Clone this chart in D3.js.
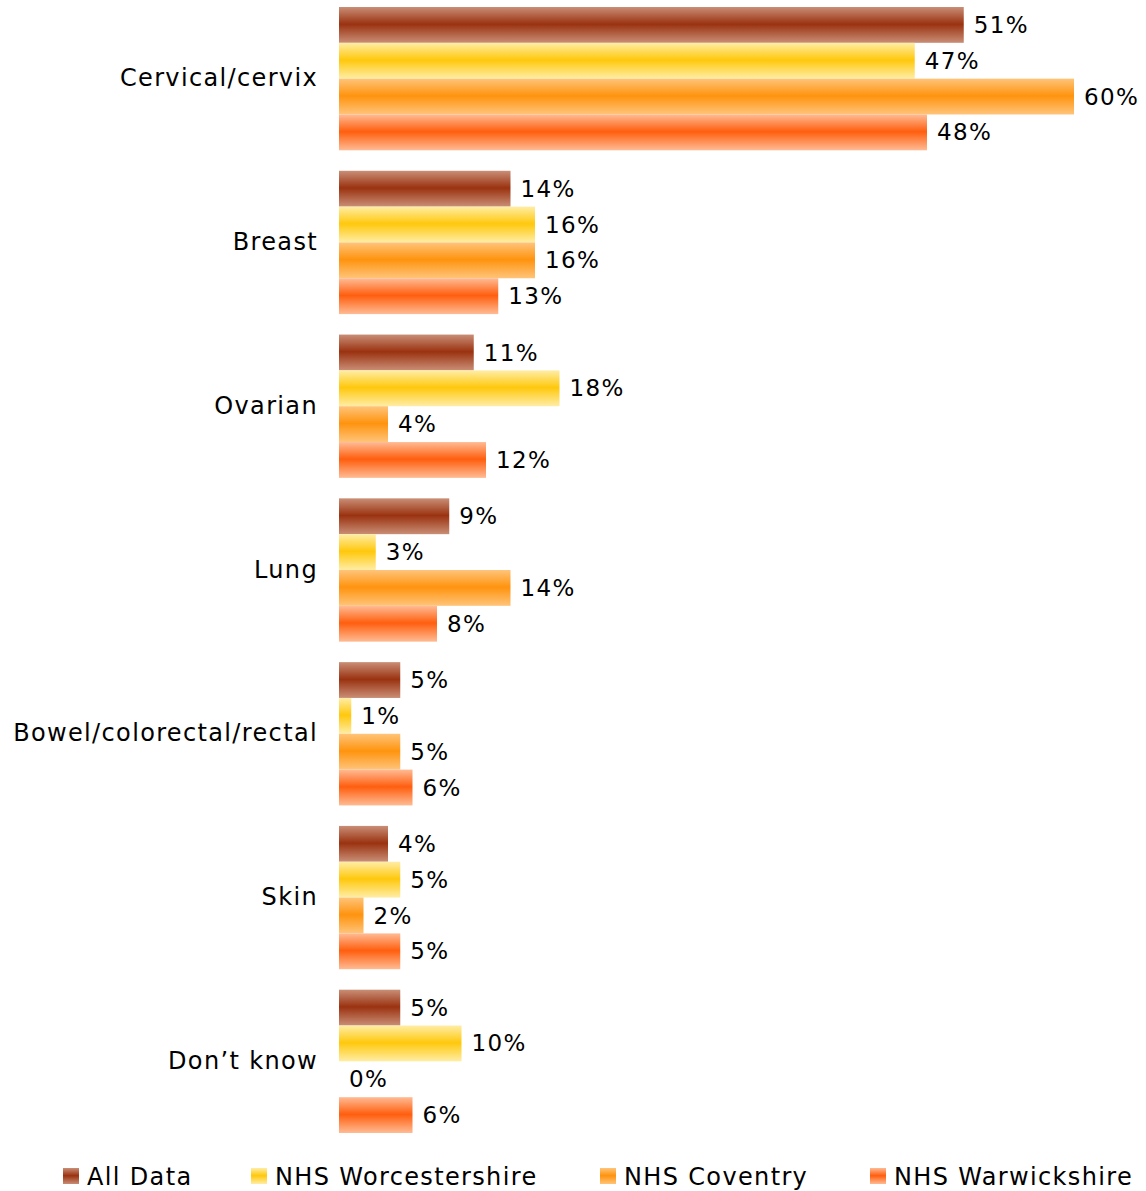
<!DOCTYPE html>
<html>
<head>
<meta charset="utf-8">
<script src="https://cdn.jsdelivr.net/npm/d3@7"></script>
<style>
  html, body { margin: 0; padding: 0; background: #fff; }
  svg { display: block; }
</style>
</head>
<body>
<div id="chart"></div>
<script>
// Cancer types named by respondents (percent of responses)
const categories = ["Cervical/cervix", "Breast", "Ovarian", "Lung", "Bowel/colorectal/rectal", "Skin", "Don\u2019t know"];
const seriesNames = ["All Data", "NHS Worcestershire", "NHS Coventry", "NHS Warwickshire"];
const allData        = [51, 14, 11, 9, 5, 4, 5];
const worcestershire = [47, 16, 18, 3, 1, 5, 10];
const coventry       = [60, 16, 4, 14, 5, 2, 0];
const warwickshire   = [48, 13, 12, 8, 6, 5, 6];
const seriesValues = [allData, worcestershire, coventry, warwickshire];

// edge / centre colours of each series' banded fill
const seriesColors = [
  { edge: "#c98e76", mid: "#9a3210" },
  { edge: "#ffeda6", mid: "#ffc80c" },
  { edge: "#ffc47a", mid: "#ff930e" },
  { edge: "#ffbb94", mid: "#ff5e0e" }
];

const width = 1146, height = 1191;
const font = "'DejaVu Sans', Verdana, sans-serif";
const spacing = "1.35px";

const svg = d3.select("#chart").append("svg")
  .attr("width", width).attr("height", height);

const defs = svg.append("defs");
seriesColors.forEach((c, i) => {
  const g = defs.append("linearGradient")
    .attr("id", "grad" + i)
    .attr("x1", 0).attr("y1", 0).attr("x2", 0).attr("y2", 1);
  g.append("stop").attr("offset", "0%").attr("stop-color", c.edge);
  g.append("stop").attr("offset", "48%").attr("stop-color", c.mid);
  g.append("stop").attr("offset", "100%").attr("stop-color", c.edge);
});

const x0 = 339;
const x = d3.scaleLinear().domain([0, 60]).range([x0, x0 + 60 * 12.25]);

const y = d3.scaleBand().domain(categories).range([7, 1133])
  .paddingInner(0.125).paddingOuter(0);

const ySub = d3.scaleBand().domain(d3.range(seriesNames.length))
  .range([0, y.bandwidth()]).padding(0);

// category axis (labels only, no line or ticks)
const axis = svg.append("g")
  .attr("transform", `translate(${x0 - 4},0)`)
  .call(d3.axisLeft(y).tickSize(0).tickPadding(17));
axis.select(".domain").remove();
axis.selectAll("text")
  .attr("font-family", font)
  .attr("font-size", 24)
  .attr("letter-spacing", spacing)
  .attr("fill", "#000");

const groups = svg.append("g").selectAll("g")
  .data(categories)
  .join("g")
  .attr("transform", d => `translate(0,${y(d)})`);

seriesNames.forEach((name, si) => {
  const vals = seriesValues[si];
  groups.append("rect")
    .attr("x", x(0))
    .attr("y", ySub(si))
    .attr("width", (d, ci) => x(vals[ci]) - x(0))
    .attr("height", ySub.bandwidth())
    .attr("fill", `url(#grad${si})`);

  groups.append("text")
    .attr("x", (d, ci) => x(vals[ci]) + 10)
    .attr("y", ySub(si) + ySub.bandwidth() / 2)
    .attr("dy", "0.35em")
    .attr("font-family", font)
    .attr("font-size", 23)
    .attr("letter-spacing", spacing)
    .attr("fill", "#000")
    .text((d, ci) => vals[ci] + "%");
});

// legend
const legendX = [63, 251, 600, 870];
const legend = svg.append("g").selectAll("g")
  .data(seriesNames)
  .join("g")
  .attr("transform", (d, i) => `translate(${legendX[i]},1168)`);
legend.append("rect")
  .attr("width", 16).attr("height", 16)
  .attr("fill", (d, i) => `url(#grad${i})`);
legend.append("text")
  .attr("x", 24).attr("y", 8).attr("dy", "0.37em")
  .attr("font-family", font)
  .attr("font-size", 24)
  .attr("letter-spacing", spacing)
  .attr("fill", "#000")
  .text(d => d);
</script>
</body>
</html>
